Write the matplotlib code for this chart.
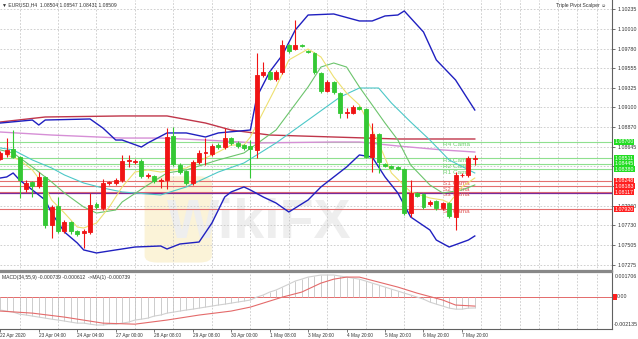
import matplotlib
matplotlib.use("Agg")
import matplotlib.pyplot as plt
import matplotlib.transforms as mtransforms
from matplotlib.patches import FancyBboxPatch

plt.rcParams["font.family"] = ["Liberation Sans", "DejaVu Sans"]

# -------------------------
# Candles (EURUSD H4), bar index 0..74
# -------------------------
opens = [1.08500, 1.08558, 1.08616, 1.08523, 1.08152, 1.08234, 1.08187, 1.08292, 1.07735, 1.07955,
         1.07666, 1.07770, 1.07666, 1.07643, 1.07654, 1.07979, 1.07932, 1.08222, 1.08222, 1.08257,
         1.08477, 1.08465, 1.08477, 1.08303, 1.08303, 1.08245, 1.08257, 1.08767, 1.08431, 1.08361,
         1.08222, 1.08465, 1.08570, 1.08558, 1.08662, 1.08639, 1.08743, 1.08686, 1.08662, 1.08651,
         1.08605, 1.09474, 1.09509, 1.09427, 1.09509, 1.09821, 1.09775, 1.09821, 1.09752, 1.09729,
         1.09497, 1.09288, 1.09393, 1.09265, 1.09034, 1.09034, 1.09103, 1.09080, 1.08523, 1.08790,
         1.08442, 1.08419, 1.08407, 1.08384, 1.07874, 1.08106, 1.08094, 1.07979, 1.08013, 1.07932,
         1.07990, 1.07828, 1.08315, 1.08315, 1.08504]
highs = [1.08593, 1.08743, 1.08836, 1.08535, 1.08257, 1.08245, 1.08349, 1.08303, 1.07967, 1.08060,
         1.07793, 1.07782, 1.07677, 1.07689, 1.08106, 1.08002, 1.08268, 1.08245, 1.08280, 1.08547,
         1.08547, 1.08500, 1.08500, 1.08338, 1.08315, 1.08280, 1.08859, 1.08871, 1.08454, 1.08373,
         1.08489, 1.08605, 1.08743, 1.08674, 1.08686, 1.08859, 1.08755, 1.08709, 1.08674, 1.08720,
         1.09729, 1.09624, 1.09532, 1.09532, 1.09879, 1.09833, 1.10111, 1.09833, 1.09763, 1.09740,
         1.09509, 1.09416, 1.09404, 1.09277, 1.09091, 1.09126, 1.09114, 1.09091, 1.08917, 1.08802,
         1.08454, 1.08431, 1.08419, 1.08396, 1.08257, 1.08118, 1.08106, 1.08025, 1.08025, 1.08002,
         1.08002, 1.08349, 1.08338, 1.08535, 1.08547]
lows = [1.08489, 1.08523, 1.08512, 1.08048, 1.08118, 1.08060, 1.08164, 1.07700, 1.07585, 1.07643,
        1.07643, 1.07631, 1.07608, 1.07469, 1.07631, 1.07921, 1.07909, 1.08199, 1.08199, 1.08234,
        1.08407, 1.08442, 1.08280, 1.08280, 1.08222, 1.08164, 1.08152, 1.08419, 1.08326, 1.08199,
        1.08199, 1.08442, 1.08431, 1.08535, 1.08616, 1.08616, 1.08662, 1.08628, 1.08605, 1.08280,
        1.08512, 1.09451, 1.09416, 1.09404, 1.09485, 1.09729, 1.09763, 1.09798, 1.09729, 1.09485,
        1.09265, 1.09277, 1.09254, 1.08975, 1.08975, 1.09022, 1.09068, 1.08512, 1.08349, 1.08338,
        1.08407, 1.08384, 1.08373, 1.07851, 1.07828, 1.08060, 1.07921, 1.07955, 1.07909, 1.07909,
        1.07816, 1.07677, 1.08292, 1.08292, 1.08431]
closes = [1.08570, 1.08605, 1.08523, 1.08257, 1.08222, 1.08187, 1.08292, 1.07735, 1.07944, 1.07666,
          1.07770, 1.07666, 1.07631, 1.07666, 1.07967, 1.07944, 1.08222, 1.08234, 1.08257, 1.08477,
          1.08489, 1.08477, 1.08303, 1.08315, 1.08245, 1.08257, 1.08755, 1.08442, 1.08349, 1.08222,
          1.08465, 1.08570, 1.08581, 1.08651, 1.08639, 1.08743, 1.08686, 1.08651, 1.08628, 1.08616,
          1.09474, 1.09509, 1.09427, 1.09509, 1.09821, 1.09752, 1.09821, 1.09810, 1.09740, 1.09509,
          1.09288, 1.09393, 1.09277, 1.09034, 1.09045, 1.09103, 1.09080, 1.08523, 1.08790, 1.08465,
          1.08419, 1.08396, 1.08384, 1.07874, 1.08106, 1.08071, 1.07944, 1.08002, 1.07932, 1.07990,
          1.07840, 1.08315, 1.08315, 1.08512, 1.08509]

# -------------------------
# Indicator lines: (bar index, price)
# -------------------------
bb_up_x = [0, 5, 6, 7, 14, 16, 18, 19, 22, 23, 26, 29, 32, 34, 39, 40, 42, 44, 46, 48,
           52, 56, 58, 60, 62, 63, 66, 68, 71, 74]
bb_up_y = [1.08917, 1.08952, 1.08894, 1.08952, 1.08964, 1.08859, 1.08720, 1.08720, 1.08639, 1.08686,
           1.08802, 1.08802, 1.08755, 1.08802, 1.08836, 1.09219, 1.09509, 1.09706, 1.09995, 1.10169,
           1.10181, 1.10100, 1.10100, 1.10158, 1.10169, 1.10216, 1.09972, 1.09648, 1.09416, 1.09068]
bb_lo_x = [0, 1, 2, 3, 5, 7, 8, 10, 12, 13, 15, 18, 21, 25, 26, 28, 31, 33, 35, 36,
           38, 39, 41, 43, 45, 48, 50, 54, 56, 58, 60, 62, 64, 67, 68, 70, 73, 74]
bb_lo_y = [1.08280, 1.08292, 1.08338, 1.08257, 1.08141, 1.08025, 1.07874, 1.07654, 1.07527, 1.07446,
           1.07411, 1.07446, 1.07480, 1.07492, 1.07457, 1.07515, 1.07538, 1.07758, 1.08060, 1.08118,
           1.08176, 1.08141, 1.08060, 1.07990, 1.07886, 1.08025, 1.08176, 1.08407, 1.08547, 1.08523,
           1.08292, 1.08106, 1.07828, 1.07677, 1.07561, 1.07480, 1.07561, 1.07608]
ma_red_x = [0, 7, 19, 26, 32, 36, 42, 52, 62, 74]
ma_red_y = [1.08929, 1.08987, 1.08999, 1.08999, 1.08917, 1.08836, 1.08778, 1.08755, 1.08732, 1.08732]
ma_pink_x = [0, 8, 19, 25, 32, 40, 52, 56, 62, 69, 74]
ma_pink_y = [1.08813, 1.08778, 1.08743, 1.08743, 1.08720, 1.08686, 1.08697, 1.08697, 1.08651, 1.08605,
             1.08581]
ma_teal_x = [0, 2, 5, 8, 10, 13, 16, 19, 25, 29, 34, 38, 43, 48, 53, 56, 59, 61, 64, 67, 70, 74]
ma_teal_y = [1.08628, 1.08605, 1.08489, 1.08396, 1.08315, 1.08222, 1.08164, 1.08118, 1.08083, 1.08176,
             1.08349, 1.08454, 1.08686, 1.08952, 1.09219, 1.09323, 1.09323, 1.09149, 1.08929, 1.08720,
             1.08489, 1.08338]
ma_green_x = [0, 2, 5, 8, 10, 13, 15, 18, 19, 23, 26, 29, 34, 38, 43, 48, 50, 52, 54, 56,
              60, 62, 64, 67, 69, 72, 74]
ma_green_y = [1.08605, 1.08570, 1.08407, 1.08234, 1.08106, 1.07944, 1.07874, 1.07909, 1.08002, 1.08199,
              1.08338, 1.08373, 1.08489, 1.08570, 1.08836, 1.09335, 1.09566, 1.09613, 1.09566, 1.09335,
              1.08917, 1.08720, 1.08431, 1.08199, 1.08106, 1.08141, 1.08199]
ma_yel_x = [1, 3, 5, 7, 8, 10, 12, 13, 15, 17, 19, 21, 23, 25, 29, 32, 34, 36, 38, 39,
            43, 45, 48, 50, 52, 54, 56, 59, 61, 64, 67, 69, 70, 72, 74]
ma_yel_y = [1.08547, 1.08489, 1.08373, 1.08176, 1.08025, 1.07874, 1.07712, 1.07700, 1.07758, 1.07944,
            1.08176, 1.08349, 1.08373, 1.08349, 1.08396, 1.08512, 1.08581, 1.08662, 1.08662, 1.08755,
            1.09335, 1.09648, 1.09775, 1.09683, 1.09451, 1.09265, 1.09126, 1.08686, 1.08338, 1.08118,
            1.08048, 1.08025, 1.07990, 1.08176, 1.08280]

# Camarilla pivot levels
piv_names = ["R4 Cama", "R3 Cama", "R2 Cama", "R1 Cama", "S1 Cama", "S2 Cama", "S3 Cama", "S4 Cama"]
piv_levels = [1.08700, 1.08511, 1.08445, 1.08380, 1.08248, 1.08183, 1.08117, 1.07920]
purple_level = 1.08110

# -------------------------
# MACD(34,55,9)
# -------------------------
macd_hist = [-0.00088, -0.00095, -0.00102, -0.00116, -0.00122, -0.00129, -0.00136, -0.00143, -0.00150, -0.00156,
             -0.00163, -0.00170, -0.00177, -0.00177, -0.00184, -0.00190, -0.00190, -0.00184, -0.00184, -0.00177,
             -0.00170, -0.00156, -0.00150, -0.00143, -0.00129, -0.00122, -0.00109, -0.00102, -0.00095, -0.00088,
             -0.00082, -0.00075, -0.00068, -0.00061, -0.00054, -0.00048, -0.00041, -0.00034, -0.00027, -0.00020,
             0.00000, 0.00014, 0.00034, 0.00048, 0.00068, 0.00088, 0.00109, 0.00122, 0.00136, 0.00143,
             0.00150, 0.00150, 0.00150, 0.00143, 0.00136, 0.00129, 0.00122, 0.00109, 0.00095, 0.00082,
             0.00068, 0.00054, 0.00041, 0.00027, 0.00014, 0.00000, -0.00014, -0.00034, -0.00048, -0.00061,
             -0.00075, -0.00082, -0.00082, -0.00075, -0.000739]
sig_x = [0, 5, 10, 16, 21, 26, 31, 36, 39, 44, 47, 50, 52, 54, 56, 59, 62, 65, 69, 71, 74]
sig_y = [-0.00095, -0.00109, -0.00136, -0.00177, -0.00184, -0.00156, -0.00122, -0.00095, -0.00068, 0.0,
         0.00034, 0.00095, 0.00122, 0.00136, 0.00136, 0.00102, 0.00068, 0.00027, -0.00020, -0.00054,
         -0.000612]

price_ticks = [1.10235, 1.10010, 1.09780, 1.09555, 1.09325, 1.09100, 1.08870, 1.08645,
               1.08415, 1.08190, 1.07960, 1.07730, 1.07505, 1.07275]
# 1.08415 and 1.08190 sit under the pivot price boxes
hidden_ticks = [1.08415, 1.08190]
time_labels = ["22 Apr 2020", "23 Apr 04:00", "24 Apr 04:00", "27 Apr 00:00", "28 Apr 08:00",
               "29 Apr 08:00", "30 Apr 00:00", "1 May 08:00", "3 May 20:00", "4 May 20:00",
               "5 May 20:00", "6 May 20:00", "7 May 20:00"]

UP = "#f01414"
DOWN = "#34c834"
GRID = "#c8c8c8"
TXT = "#333333"
FS = 3.6

W, H = 638, 339
fig = plt.figure(figsize=(W / 100, H / 100), dpi=100)
ax = fig.add_axes([0, 1 - 271 / H, 612 / W, 271 / H])
ax2 = fig.add_axes([0, 1 - 328.5 / H, 612 / W, 56.5 / H], sharex=ax)

ax.set_xlim(-0.05, 95.4)
ax.set_ylim(1.07202, 1.10343)

# grid
for a in (ax, ax2):
    a.set_xticks(range(0, 96, 3), minor=True)
    a.grid(True, which="minor", axis="x", color=GRID, lw=0.6, ls=(0, (2, 2)))
    a.set_axisbelow(True)
ax.set_yticks(price_ticks)
ax.set_yticklabels(["" if p in hidden_ticks else f"{p:.5f}" for p in price_ticks])
ax.grid(True, axis="y", color=GRID, lw=0.6, ls=(0, (2, 2)))
ax.yaxis.tick_right()
ax.tick_params(axis="y", labelsize=3.8, colors="#555555", labelcolor=TXT, length=2.5, pad=1.5, width=0.6)
ax.tick_params(axis="x", which="both", length=0, labelbottom=False)

for s in ("top", "left"):
    ax.spines[s].set_visible(False)
    ax2.spines[s].set_visible(False)
ax.spines["right"].set_color("#606060")
ax.spines["right"].set_linewidth(0.8)
ax.spines["bottom"].set_color("#888888")
ax.spines["bottom"].set_linewidth(1.6)
ax2.spines["right"].set_color("#606060")
ax2.spines["right"].set_linewidth(0.8)
ax2.spines["bottom"].set_color("#606060")
ax2.spines["bottom"].set_linewidth(0.8)

# watermark
ax.add_patch(FancyBboxPatch((22.5, 1.0730), 10.5, 0.0100, boxstyle="round,pad=0,rounding_size=2",
                            fc="#fbf3d8", ec="none", zorder=0, mutation_aspect=0.0004))
ax.text(26, 1.0775, "WikiFX", fontsize=40, fontweight="bold", color="#eeeeee",
        ha="left", va="center", zorder=0)

# pivot lines
for name, lv in zip(piv_names, piv_levels):
    col = "#8fe08f" if name.startswith("R") else "#e47070"
    lab = "#6fd06f" if name.startswith("R") else "#e05858"
    ax.axhline(lv, color=col, lw=0.8, zorder=1)
    ax.text(69.1, lv - 0.00002, name, fontsize=4.6, color=lab, va="top", ha="left", zorder=2)
ax.axhline(purple_level, color="#7a2a9a", lw=0.9, zorder=1)

# moving averages / bands
ax.plot(ma_red_x, ma_red_y, color="#c0364a", lw=1.0, zorder=2)
ax.plot(ma_pink_x, ma_pink_y, color="#d68fd6", lw=1.0, zorder=2)
ax.plot(ma_teal_x, ma_teal_y, color="#4cc8c8", lw=0.8, zorder=2)
ax.plot(ma_green_x, ma_green_y, color="#6cc46c", lw=0.8, zorder=2)
ax.plot(ma_yel_x, ma_yel_y, color="#eee070", lw=0.8, zorder=2)
ax.plot(bb_up_x, bb_up_y, color="#2020c0", lw=1.0, zorder=2)
ax.plot(bb_lo_x, bb_lo_y, color="#2020c0", lw=1.0, zorder=2)

# candles
idx = list(range(len(opens)))
cols = [UP if c >= o else DOWN for o, c in zip(opens, closes)]
ax.vlines(idx, lows, highs, colors=cols, lw=0.8, zorder=3)
bottoms = [min(o, c) for o, c in zip(opens, closes)]
heights = [abs(c - o) for o, c in zip(opens, closes)]
ax.bar(idx, heights, bottom=bottoms, width=0.62, color=cols, edgecolor=cols, lw=0.6, zorder=4)

# right-side price boxes
trans = mtransforms.blended_transform_factory(ax.transAxes, ax.transData)
for lv in piv_levels:
    fc = "#22dd22" if lv > 1.0830 else "#ff2020"
    ax.text(1.004, lv, f"{lv:.5f}", transform=trans, fontsize=3.8, color="white", ha="left",
            va="center", clip_on=False, zorder=6,
            bbox=dict(boxstyle="square,pad=0.12", fc=fc, ec="none"))

# header texts
fig.text(2 / W, 1 - 5 / H, "\u25bc EURUSD,H4  1.08504 1.08547 1.08431 1.08509", fontsize=FS,
         color=TXT, va="center", ha="left")
fig.text(606 / W, 1 - 5 / H, "Triple Pivot Scalper \u263a", fontsize=FS, color=TXT,
         va="center", ha="right")

# MACD panel
ax2.set_ylim(-0.002135, 0.001706)
ax2.vlines(idx, 0, macd_hist, colors="#c4c4c4", lw=0.6, zorder=2)
ax2.plot(idx, macd_hist, color="#d0d0d0", lw=0.8, zorder=2)
ax2.plot(sig_x, sig_y, color="#e46a6a", lw=0.8, zorder=3)
ax2.axhline(0, color="#e46a6a", lw=0.7, zorder=1)
ax2.set_yticks([])
ax2.spines["top"].set_color("#888888")
ax2.spines["top"].set_linewidth(1.6)
ax2.spines["top"].set_visible(True)
ax2.set_xticks(range(0, 6 * len(time_labels), 6))
ax2.set_xticklabels(time_labels)
for t in ax2.get_xticklabels():
    t.set_ha("left")
ax2.tick_params(axis="x", which="major", labelsize=3.4, labelcolor=TXT, length=2, pad=1, width=0.6,
                colors="#606060")
ax2.tick_params(axis="x", which="minor", length=0)
fig.text(2 / W, 1 - 277 / H, "MACD(34,55,9) -0.000739 -0.000612  ->MA(1) -0.000739",
         fontsize=FS, color=TXT, va="center", ha="left")
fig.text(615 / W, 1 - 276 / H, "0.001706", fontsize=3.8, color=TXT, va="center", ha="left")
fig.text(617 / W, 1 - 297 / H, "0.00", fontsize=3.8, color=TXT, va="center", ha="left")
fig.patches.append(plt.Rectangle((613 / W, 1 - 300 / H), 4 / W, 6 / H, transform=fig.transFigure,
                                 fc="#ff2020", ec="none"))
fig.text(614 / W, 1 - 325 / H, "-0.002135", fontsize=3.8, color=TXT, va="center", ha="left")

fig.savefig("out.png", dpi=100)
